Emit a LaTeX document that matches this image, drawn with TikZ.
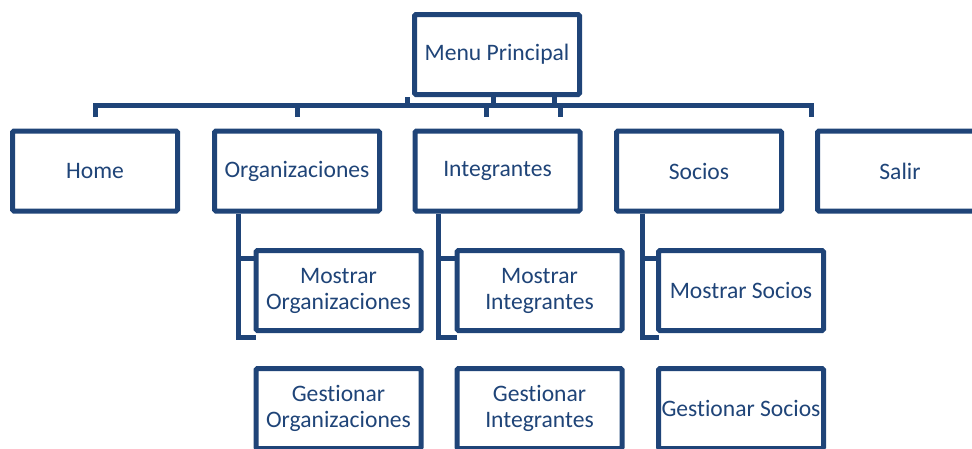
\documentclass[tikz,border=0pt]{standalone}
\usepackage{fontspec}
\setmainfont{Carlito}[Ligatures=NoCommon]
\usetikzlibrary{calc}
\definecolor{navy}{HTML}{1F4478}
\tikzset{
  box/.style={draw=navy, line width=5pt, rounded corners=1.5pt, fill=white,
    minimum width=165pt, minimum height=80pt, inner sep=0pt, align=center,
    text=navy, font=\fontsize{23.6pt}{26pt}\selectfont},
  conn/.style={draw=navy, line width=5pt, line cap=butt, line join=miter}
}
\begin{document}
\begin{tikzpicture}[x=1pt,y=-1pt]
\useasboundingbox (0,0) rectangle (972,448);
\begin{scope}
\clip (0,0) rectangle (972,448);
% coordinates of the bus levels
\coordinate (busy) at (0,105.5);
\coordinate (dropy) at (0,117);
% top node
\node[box] (menu) at (497,54.5) {Menu Principal};
% first level
\node[box] (home) at (95,171) {Home};
\node[box] (org) at (297,171) {Organizaciones};
\node[box] (int) at (497.5,171) {Integrantes};
\node[box] (soc) at (699,171) {Socios};
\node[box] (sal) at (900,171) {Salir};
% connectors from menu to bus
\coordinate (m1) at ($(menu.south west)+(-5,0)$);
\coordinate (m2) at ($(menu.south)+(-3.5,0)$);
\coordinate (m3) at ($(menu.south)+(57.5,0)$);
\draw[conn] (m1) -- (m1 |- busy);
\draw[conn] (m2) -- (m2 |- busy);
\draw[conn] (m3) -- (m3 |- busy);
% bus and drops
\coordinate (d3) at ($(int.north)+(-11.5,0)$);
\coordinate (d4) at ($(int.north)+(62.5,0)$);
\coordinate (d5) at ($(sal.north west)+(-4,0)$);
\draw[conn] (home.north |- dropy) -- (home.north |- busy) -- (d5 |- busy) -- (d5 |- dropy);
\draw[conn] (org.north |- busy) -- (org.north |- dropy);
\draw[conn] (d3 |- busy) -- (d3 |- dropy);
\draw[conn] (d4 |- busy) -- (d4 |- dropy);
% second and third level
\node[box] (morg) at (338.5,290.5) {Mostrar\\Organizaciones};
\node[box] (mint) at (539.5,290.5) {Mostrar\\Integrantes};
\node[box] (msoc) at (741,290.5) {Mostrar Socios};
\node[box] (gorg) at (338.5,408.5) {Gestionar\\Organizaciones};
\node[box] (gint) at (539.5,408.5) {Gestionar\\Integrantes};
\node[box] (gsoc) at (741,408.5) {Gestionar Socios};
% sub connectors
\foreach \p/\c/\o in {org/morg/26, int/mint/26, soc/msoc/28}{
  \coordinate (v) at ($(\p.south west)+(\o,0)$);
  \coordinate (s) at ($(\c.north)+(0,10.75)$);
  \coordinate (b) at ($(\c.south)+(0,4.5)$);
  \draw[conn] (v) -- (v |- b) -- ($(\c.west |- b)+(2.5,0)$);
  \draw[conn] (v |- s) -- (\c.west |- s);
}
\end{scope}
\end{tikzpicture}
\end{document}
